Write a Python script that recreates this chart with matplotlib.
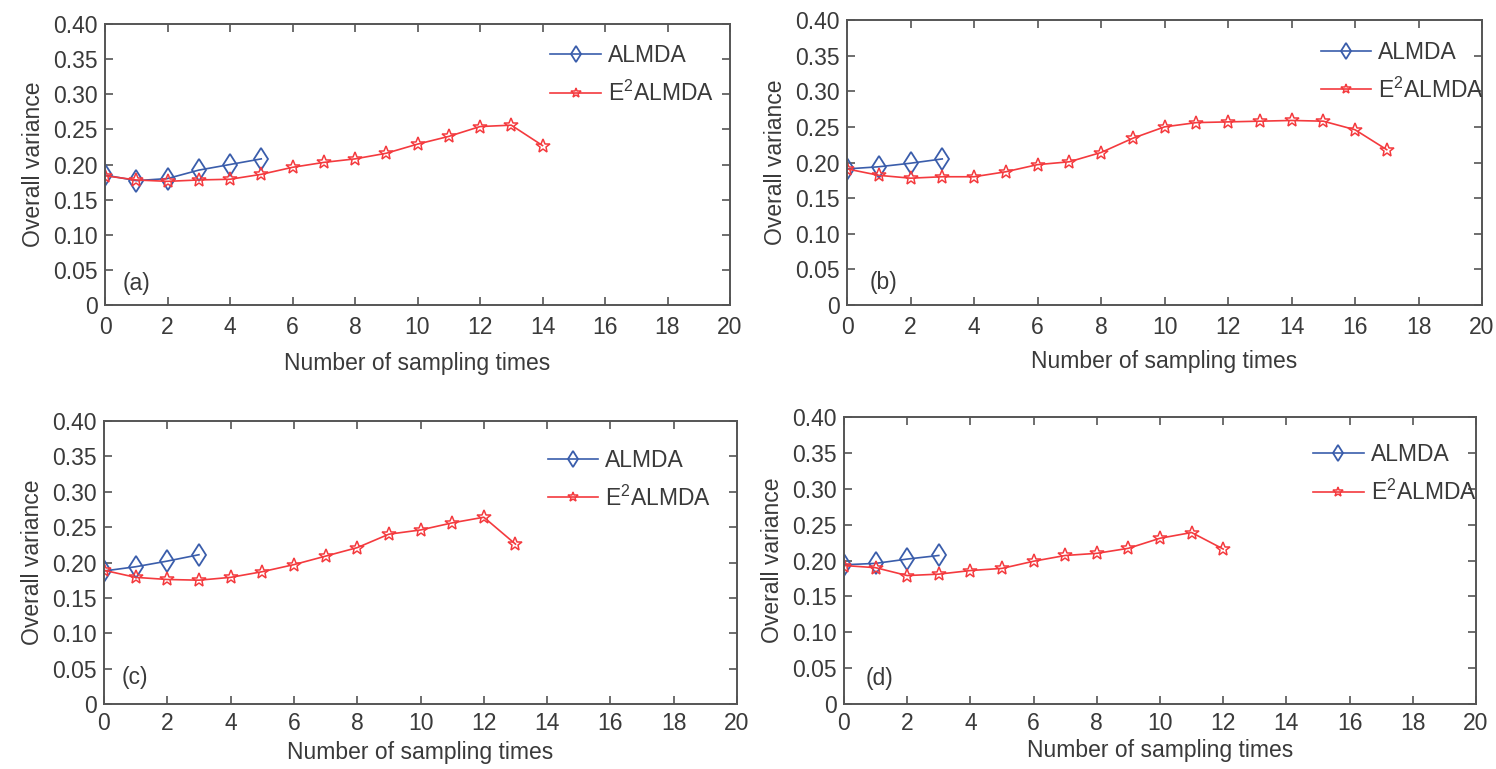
import matplotlib
matplotlib.use("Agg")
import matplotlib.pyplot as plt
from matplotlib.ticker import FixedLocator, FuncFormatter

plt.rcParams['font.family'] = ['Liberation Sans', 'DejaVu Sans']
plt.rcParams['mathtext.default'] = 'regular'

# ---------------- data ----------------
a_almda_x = [0, 1, 2, 3, 4, 5]
a_almda_y = [0.185, 0.177, 0.180, 0.192, 0.200, 0.208]
a_e2_x = list(range(15))
a_e2_y = [0.184, 0.178, 0.176, 0.178, 0.179, 0.186, 0.196, 0.203, 0.208,
          0.216, 0.229, 0.240, 0.254, 0.256, 0.227]

b_almda_x = [0, 1, 2, 3]
b_almda_y = [0.191, 0.194, 0.199, 0.205]
b_e2_x = list(range(18))
b_e2_y = [0.191, 0.182, 0.178, 0.180, 0.180, 0.187, 0.197, 0.201, 0.214,
          0.234, 0.250, 0.256, 0.257, 0.258, 0.259, 0.258, 0.246, 0.218]

c_almda_x = [0, 1, 2, 3]
c_almda_y = [0.188, 0.194, 0.202, 0.211]
c_e2_x = list(range(14))
c_e2_y = [0.189, 0.179, 0.176, 0.175, 0.179, 0.187, 0.197, 0.209, 0.221,
          0.240, 0.246, 0.256, 0.264, 0.226]

d_almda_x = [0, 1, 2, 3]
d_almda_y = [0.194, 0.196, 0.202, 0.207]
d_e2_x = list(range(13))
d_e2_y = [0.193, 0.190, 0.179, 0.181, 0.186, 0.189, 0.199, 0.207, 0.210,
          0.217, 0.231, 0.239, 0.216]

panel_labels = ['(a)', '(b)', '(c)', '(d)']
series_names = ['ALMDA', 'E$^{2}$ALMDA']
x_ticks = [0, 2, 4, 6, 8, 10, 12, 14, 16, 18, 20]
y_ticks = [0, 0.05, 0.10, 0.15, 0.20, 0.25, 0.30, 0.35, 0.40]
x_label = 'Number of sampling times'
y_label = 'Overall variance'

# ---------------- style ----------------
W, H = 1496, 769
blue = '#3a5dab'
red = '#f43a3e'
txt = '#3a3a3a'
spine_c = '#555555'
fs = 16.5

fig = plt.figure(figsize=(W / 100, H / 100), dpi=100)

# axes boxes in pixels: left, right, top, bottom
boxes = [(105, 730, 24, 305), (847, 1482, 20, 305),
         (104, 737, 421, 704), (844, 1476, 417, 704)]
leg_pos = [(0.698, 0.96), (0.732, 0.96), (0.687, 0.935), (0.728, 0.94)]
lab_pos = [(0.55, 0.031), (0.7, 0.031), (0.56, 0.038), (0.7, 0.035)]
xtick_pad = [8, 8, 6, 6]
xlab_pad = [9, 8, 4, 3]

data = [(a_almda_x, a_almda_y, a_e2_x, a_e2_y),
        (b_almda_x, b_almda_y, b_e2_x, b_e2_y),
        (c_almda_x, c_almda_y, c_e2_x, c_e2_y),
        (d_almda_x, d_almda_y, d_e2_x, d_e2_y)]

def yfmt(v, pos):
    return '0' if abs(v) < 1e-9 else '%.2f' % v

for i, (l, r, t, b) in enumerate(boxes):
    ax = fig.add_axes([l / W, 1 - b / H, (r - l) / W, (b - t) / H])
    ax1x, ax1y, ax2x, ax2y = data[i]
    ax.plot(ax1x, ax1y, color=blue, lw=1.2, marker='d', ms=11.5,
            mfc='none', mec=blue, mew=1.3, label=series_names[0])
    ax.plot(ax2x, ax2y, color=red, lw=1.2, marker='*', ms=10,
            mfc='none', mec=red, mew=1.1, label=series_names[1])
    ax.set_xlim(0, 20)
    ax.set_ylim(0, 0.40)
    ax.xaxis.set_major_locator(FixedLocator(x_ticks))
    ax.yaxis.set_major_locator(FixedLocator(y_ticks))
    ax.yaxis.set_major_formatter(FuncFormatter(yfmt))
    ax.tick_params(direction='in', top=True, right=True, length=6,
                   width=1.2, color=spine_c, labelsize=fs,
                   labelcolor=txt)
    ax.tick_params(axis='x', pad=xtick_pad[i])
    ax.tick_params(axis='y', pad=5)
    for s in ax.spines.values():
        s.set_color(spine_c)
        s.set_linewidth(1.4)
    ax.set_xlabel(x_label, fontsize=fs, color=txt, labelpad=xlab_pad[i])
    ax.set_ylabel(y_label, fontsize=fs, color=txt, labelpad=6)
    ax.text(lab_pos[i][0], lab_pos[i][1], panel_labels[i], fontsize=fs,
            color=txt, va='center', ha='left')
    leg = ax.legend(loc='upper left', bbox_to_anchor=leg_pos[i],
                    frameon=False, fontsize=fs, handlelength=2.2,
                    handletextpad=0.3, labelspacing=0.6, borderaxespad=0,
                    markerscale=0.75)
    for tx in leg.get_texts():
        tx.set_color(txt)

fig.savefig('out.png', dpi=100)
